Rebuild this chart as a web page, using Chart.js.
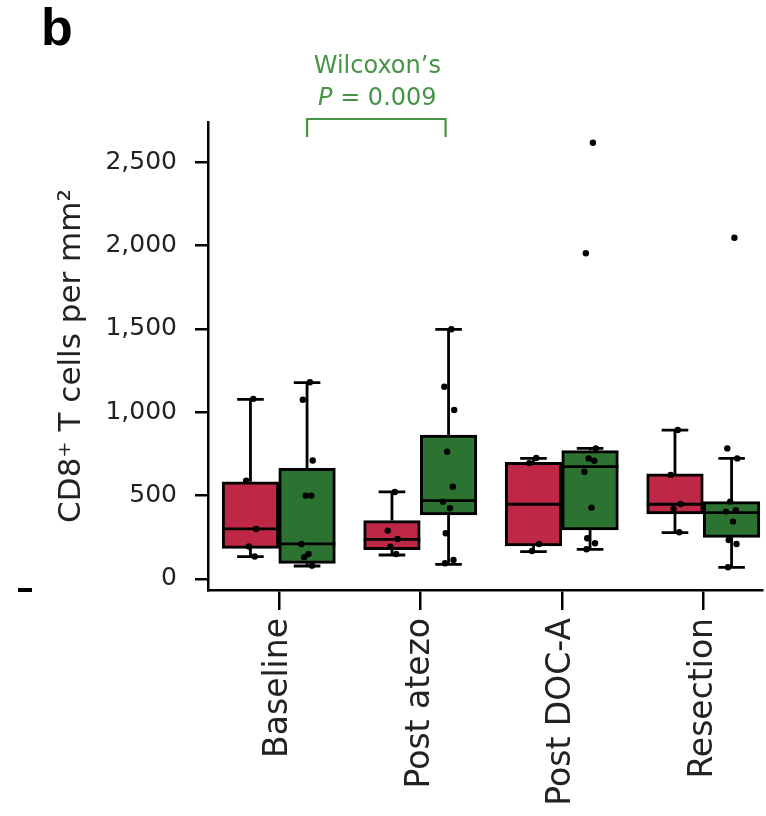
<!DOCTYPE html>
<html>
<head>
<meta charset="utf-8">
<script src="https://cdn.jsdelivr.net/npm/chart.js@4/dist/chart.umd.min.js"></script>
<style>
  body { margin: 0; background: #fff; }
  #wrap { width: 766px; height: 816px; }
</style>
</head>
<body>
<div id="wrap"><canvas id="myChart" width="766" height="816"></canvas></div>
<script>
// categories
var groups = ['Baseline', 'Post atezo', 'Post DOC-A', 'Resection']
var yTicks = [0, 500, 1000, 1500, 2000, 2500]

// red boxes (box stats)
var redLow = [134, 144, 164, 278]
var redQ1 = [184, 176, 198, 390]
var redMed = [300, 238, 448, 448]
var redQ3 = [583, 350, 700, 630]
var redHigh = [1077, 522, 723, 893]

// green boxes
var greenLow = [78, 88, 178, 70]
var greenQ1 = [94, 384, 294, 250]
var greenMed = [210, 470, 674, 398]
var greenQ3 = [664, 863, 770, 464]
var greenHigh = [1177, 1497, 783, 723]

// single points per group
var redPoints = [
  [1080, 590, 300, 195, 135],
  [522, 290, 240, 194, 150],
  [725, 695, 210, 168],
  [893, 624, 450, 420, 280]
]
var greenPoints = [
  [1180, 1075, 710, 500, 500, 210, 150, 130, 80],
  [1497, 1153, 1013, 763, 553, 463, 424, 274, 114, 94],
  [2616, 1953, 783, 723, 709, 643, 428, 244, 214, 178],
  [2046, 783, 723, 464, 413, 404, 344, 234, 210, 70]
]

var red = '#BE2846'
var green = '#2C7230'
var annColor = '#469446'
var fontName = '"DejaVu Sans", sans-serif'

// box centre offset from the category, and a small fixed spread for dots
var half = 0.2
var spread = [0.02, -0.03, 0.04, -0.01, 0.03, -0.04, 0.01, -0.02, 0.035, -0.025]

function pts(list, side){
  var out = []
  for (var i = 0; i < list.length; i++){
    for (var j = 0; j < list[i].length; j++){
      out.push({x: i + side * half + spread[j % spread.length], y: list[i][j]})
    }
  }
  return out
}
function boxes(q1, q3, side){
  return q1.map(function(v, i){ return {x: i + side * half, y: [v, q3[i]]} })
}

var boxStats = [
  {lo: redLow, q1: redQ1, med: redMed, q3: redQ3, hi: redHigh},
  {lo: greenLow, q1: greenQ1, med: greenMed, q3: greenQ3, hi: greenHigh}
]

var boxPlugin = {
  id: 'boxes',
  afterDatasetDraw: function(chart, args){
    if (args.index > 1) return
    var st = boxStats[args.index]
    var ys = chart.scales.y
    var ctx = chart.ctx
    ctx.save()
    ctx.strokeStyle = '#000'
    ctx.lineWidth = 2.8
    args.meta.data.forEach(function(el, i){
      var x = el.x, w = el.width
      var cap = w * 0.47
      var yq1 = ys.getPixelForValue(st.q1[i])
      var yq3 = ys.getPixelForValue(st.q3[i])
      var ylo = ys.getPixelForValue(st.lo[i])
      var yhi = ys.getPixelForValue(st.hi[i])
      var ymed = ys.getPixelForValue(st.med[i])
      ctx.beginPath()
      ctx.moveTo(x, yq3); ctx.lineTo(x, yhi)
      ctx.moveTo(x - cap / 2, yhi); ctx.lineTo(x + cap / 2, yhi)
      ctx.moveTo(x, yq1); ctx.lineTo(x, ylo)
      ctx.moveTo(x - cap / 2, ylo); ctx.lineTo(x + cap / 2, ylo)
      ctx.stroke()
      ctx.beginPath()
      ctx.moveTo(x - w / 2, ymed); ctx.lineTo(x + w / 2, ymed)
      ctx.stroke()
    })
    ctx.restore()
  },
  afterDraw: function(chart){
    var ctx = chart.ctx
    ctx.save()
    // panel letter
    ctx.fillStyle = '#000'
    ctx.font = 'bold 52px "Liberation Sans", Arial, sans-serif'
    ctx.textAlign = 'left'
    ctx.textBaseline = 'alphabetic'
    ctx.fillText('b', 41, 45)
    // stray mark at lower left
    ctx.fillRect(18, 588, 14, 4)

    // significance bracket between green Baseline and green Post atezo
    var g = chart.getDatasetMeta(1).data
    var x1 = g[0].x, x2 = g[1].x - 3
    ctx.strokeStyle = annColor
    ctx.lineWidth = 2.2
    ctx.beginPath()
    ctx.moveTo(x1, 137); ctx.lineTo(x1, 119); ctx.lineTo(x2, 119); ctx.lineTo(x2, 137)
    ctx.stroke()
    var cx = (x1 + x2) / 2 + 1
    ctx.fillStyle = annColor
    ctx.font = '24px ' + fontName
    ctx.textAlign = 'center'
    ctx.fillText('Wilcoxon\u2019s', cx, 73)
    ctx.font = 'italic 24px ' + fontName
    var wP = ctx.measureText('P').width
    ctx.font = '24px ' + fontName
    var rest = ' = 0.009'
    var wR = ctx.measureText(rest).width
    var sx = cx - (wP + wR) / 2
    ctx.textAlign = 'left'
    ctx.font = 'italic 24px ' + fontName
    ctx.fillText('P', sx, 105)
    ctx.font = '24px ' + fontName
    ctx.fillText(rest, sx + wP, 105)
    ctx.restore()
  }
}

var ctx = document.getElementById('myChart')
var chart = new Chart(ctx, {
  type: 'bar',
  data: {
    datasets: [
      {
        label: 'red',
        data: boxes(redQ1, redQ3, -1),
        backgroundColor: red,
        borderColor: '#000',
        borderWidth: 3,
        borderSkipped: false,
        grouped: false,
        barPercentage: 1.0,
        categoryPercentage: 1.0,
        order: 2
      },
      {
        label: 'green',
        data: boxes(greenQ1, greenQ3, 1),
        backgroundColor: green,
        borderColor: '#000',
        borderWidth: 3,
        borderSkipped: false,
        grouped: false,
        barPercentage: 1.0,
        categoryPercentage: 1.0,
        order: 2
      },
      {
        type: 'scatter',
        label: 'red points',
        data: pts(redPoints, -1),
        pointRadius: 3.2,
        backgroundColor: '#000',
        borderWidth: 0,
        order: 1
      },
      {
        type: 'scatter',
        label: 'green points',
        data: pts(greenPoints, 1),
        pointRadius: 3.2,
        backgroundColor: '#000',
        borderWidth: 0,
        order: 1
      }
    ]
  },
  options: {
    responsive: false,
    animation: false,
    layout: { padding: { top: 122, left: 0, right: 0, bottom: 0 } },
    plugins: { legend: { display: false }, tooltip: { enabled: false } },
    scales: {
      x: {
        type: 'linear',
        min: -0.5,
        max: 3.415,
        offset: false,
        grid: { display: true, drawOnChartArea: false, offset: false, tickLength: 20, color: '#000', lineWidth: 2.5 },
        border: { display: true, color: '#000', width: 2.5 },
        afterBuildTicks: function(s){ s.ticks = groups.map(function(g, i){ return {value: i} }) },
        ticks: {
          minRotation: 90, maxRotation: 90, padding: 8, autoSkip: false,
          color: '#222', font: { family: fontName, size: 33 },
          callback: function(v){ return groups[v] }
        },
        afterFit: function(s){ s.height = 226 }
      },
      y: {
        min: -66,
        max: 2740,
        grid: { display: true, drawOnChartArea: false, tickLength: 13, color: '#000', lineWidth: 2.5 },
        border: { display: true, color: '#000', width: 2.5 },
        ticks: { padding: 18, color: '#222', font: { family: fontName, size: 25 } },
        afterBuildTicks: function(s){ s.ticks = yTicks.map(function(v){ return {value: v} }) },
        title: {
          display: true,
          text: 'CD8\u207A T cells per mm\u00B2',
          color: '#222',
          font: { family: fontName, size: 31 },
          padding: { top: 53, bottom: 0 }
        },
        afterFit: function(s){ s.width = 208 }
      }
    }
  },
  plugins: [boxPlugin]
})
</script>
</body>
</html>
